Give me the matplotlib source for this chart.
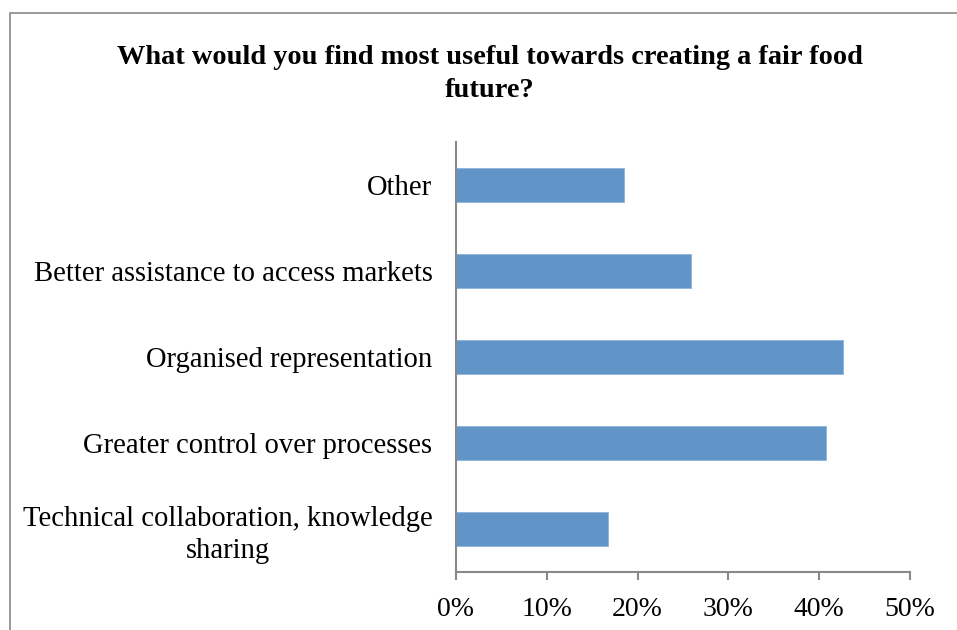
import matplotlib
matplotlib.use("Agg")
import matplotlib.pyplot as plt
from matplotlib.patches import Rectangle
from matplotlib.ticker import FuncFormatter

categories = [
    "Technical collaboration, knowledge\nsharing",
    "Greater control over processes",
    "Organised representation",
    "Better assistance to access markets",
    "Other",
]
shares = [16.7, 40.7, 42.6, 25.9, 18.5]
x_ticks = [0, 10, 20, 30, 40, 50]
title = "What would you find most useful towards creating a fair food\nfuture?"

bar_color = "#6195C8"
axis_color = "#898989"
serif = ["Liberation Serif", "DejaVu Serif"]

fig = plt.figure(figsize=(9.57, 6.30), dpi=100)
fig.patch.set_facecolor("white")

# chart frame
fig.add_artist(Rectangle((10 / 957, -0.1), 1.2, 1 - 13 / 630 + 0.1,
                         transform=fig.transFigure, fill=False,
                         edgecolor=axis_color, linewidth=1.2))

ax = fig.add_axes([456 / 957, 1 - 571.7 / 630, (910 - 456) / 957, (571.7 - 142) / 630])
ypos = list(range(len(categories)))
ax.barh(ypos, shares, height=0.4, color=bar_color, edgecolor="#8DB3DD", linewidth=0.6)

ax.set_xlim(0, 50)
ax.set_ylim(-0.5, len(categories) - 0.5)
ax.set_xticks(x_ticks)
ax.xaxis.set_major_formatter(FuncFormatter(lambda v, p: f"{v:.0f}%"))
ax.set_yticks(ypos)
ax.set_yticklabels(categories, multialignment="center", linespacing=1.3)

for side in ("top", "right"):
    ax.spines[side].set_visible(False)
for side in ("left", "bottom"):
    ax.spines[side].set_color(axis_color)
    ax.spines[side].set_linewidth(1.5)

ax.tick_params(axis="x", direction="out", length=6, width=1.5, color=axis_color,
               pad=12, labelsize=20)
ax.tick_params(axis="y", length=0, pad=17, labelsize=20.6)
for lbl in ax.get_xticklabels() + ax.get_yticklabels():
    lbl.set_family(serif)
    lbl.set_color("black")

fig.text(490 / 957, 1 - 74 / 630, title, ha="center", va="center",
         fontsize=20.4, fontweight="bold", family=serif, linespacing=1.38)

fig.savefig("out.png", dpi=100, facecolor="white")
